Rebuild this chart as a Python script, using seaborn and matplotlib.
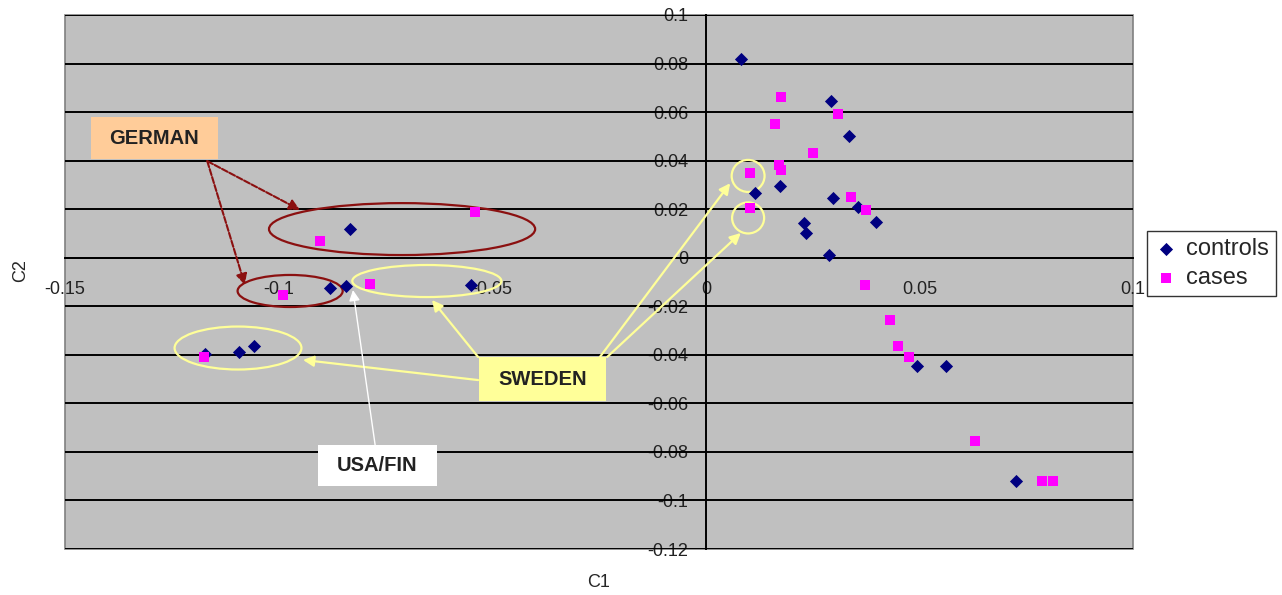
import numpy as np
import pandas as pd
import matplotlib
matplotlib.use("Agg")
import matplotlib.pyplot as plt
from matplotlib.patches import Ellipse, Rectangle
import seaborn as sns

# PCA-style scatter: C1 vs C2
controls_c1 = [0.0082, 0.0292, 0.0335, 0.0115, 0.0174, 0.0297, 0.0356, 0.0399, 0.0229, 0.0235,
               0.0289, 0.0494, 0.0562, 0.0726, -0.0832, -0.0879, -0.0842, -0.0550, -0.1173,
               -0.1093, -0.1058]
controls_c2 = [0.0820, 0.0645, 0.0502, 0.0268, 0.0297, 0.0245, 0.0207, 0.0149, 0.0145, 0.0101,
               0.0010, -0.0446, -0.0446, -0.0919, 0.0118, -0.0125, -0.0115, -0.0114, -0.0398,
               -0.0387, -0.0364]
cases_c1 = [0.0176, 0.0162, 0.0309, 0.0251, 0.0172, 0.0176, 0.0104, 0.0104, 0.0340, 0.0374,
            0.0373, 0.0431, 0.0449, 0.0475, 0.0631, 0.0786, 0.0812, -0.0540, -0.0904, -0.0989,
            -0.0785, -0.1175]
cases_c2 = [0.0664, 0.0550, 0.0591, 0.0432, 0.0382, 0.0361, 0.0350, 0.0204, 0.0249, 0.0197,
            -0.0111, -0.0255, -0.0364, -0.0408, -0.0754, -0.0921, -0.0921, 0.0188, 0.0070,
            -0.0152, -0.0108, -0.0408]

x_ticks = [-0.15, -0.1, -0.05, 0, 0.05, 0.1]
x_ticklabels = ["-0.15", "-0.1", "-0.05", "0", "0.05", "0.1"]
y_ticks = [0.1, 0.08, 0.06, 0.04, 0.02, 0, -0.02, -0.04, -0.06, -0.08, -0.1, -0.12]
y_ticklabels = ["0.1", "0.08", "0.06", "0.04", "0.02", "0", "-0.02", "-0.04", "-0.06",
                "-0.08", "-0.1", "-0.12"]

sns.set_style("white")
plt.rcParams['font.family'] = ['Liberation Sans', 'DejaVu Sans']

df_controls = pd.DataFrame({"C1": controls_c1, "C2": controls_c2})
df_cases = pd.DataFrame({"C1": cases_c1, "C2": cases_c2})

fig = plt.figure(figsize=(12.82, 5.95), dpi=100)
ax = fig.add_axes([0.0507, 0.0773, 0.8331, 0.8975])
ax.set_facecolor("#C0C0C0")
ax.patch.set_edgecolor("#808080")
ax.patch.set_linewidth(1.2)

# horizontal gridlines
for yv in y_ticks:
    ax.axhline(yv, color="black", lw=1.4, zorder=1)

sns.scatterplot(data=df_controls, x="C1", y="C2", ax=ax, marker="D", s=45, color="#000080",
                linewidth=0, label="controls", zorder=5)
sns.scatterplot(data=df_cases, x="C1", y="C2", ax=ax, marker="s", s=42, color="#FF00FF",
                linewidth=0, label="cases", zorder=5)

ax.set_xlim(-0.15, 0.1)
ax.set_ylim(-0.12, 0.1)
ax.set_xticks(x_ticks)
ax.set_xticklabels(x_ticklabels)
ax.set_yticks(y_ticks)
ax.set_yticklabels(y_ticklabels)

ax.spines['left'].set_position(('data', 0))
ax.spines['bottom'].set_position(('data', 0))
ax.spines['top'].set_visible(False)
ax.spines['right'].set_visible(False)
for sp in ['left', 'bottom']:
    ax.spines[sp].set_color("black")
    ax.spines[sp].set_linewidth(1.4)
    ax.spines[sp].set_zorder(2)
ax.tick_params(axis='both', direction='out', length=3.5, width=1.2, color='black',
               labelsize=13, labelcolor='#222222')
ax.tick_params(axis='x', pad=13)
ax.tick_params(axis='y', pad=9)

ax.set_xlabel("C1", fontsize=13)
ax.set_ylabel("C2", fontsize=13)
ax.xaxis.set_label_coords(0.5, -0.047)
ax.yaxis.set_label_coords(-0.034, 0.522)

# annotation ellipses
red = "#8B1010"
yel = "#FFFF99"
ax.add_patch(Ellipse((-0.0711, 0.0118), 0.0623, 0.0214, fill=False, ec=red, lw=1.6, zorder=4))
ax.add_patch(Ellipse((-0.0973, -0.0137), 0.0246, 0.0132, fill=False, ec=red, lw=1.6, zorder=4))
ax.add_patch(Ellipse((-0.0653, -0.0096), 0.0349, 0.0132, fill=False, ec=yel, lw=1.6, zorder=4))
ax.add_patch(Ellipse((-0.1095, -0.0372), 0.0297, 0.0177, fill=False, ec=yel, lw=1.6, zorder=4))
ax.add_patch(Ellipse((0.0099, 0.0337), 0.0077, 0.0132, fill=False, ec=yel, lw=1.6, zorder=4))
ax.add_patch(Ellipse((0.0099, 0.0164), 0.0075, 0.0128, fill=False, ec=yel, lw=1.6, zorder=4))

# label boxes
ax.add_patch(Rectangle((-0.1439, 0.0407), 0.0297, 0.0173, fc="#FFCC99", ec="none", zorder=6))
ax.text(-0.12905, 0.0493, "GERMAN", ha="center", va="center", fontsize=14.5,
        fontweight="bold", color="#222222", zorder=7)
ax.add_patch(Rectangle((-0.0531, -0.0590), 0.0297, 0.0181, fc="#FFFF99", ec="none", zorder=6))
ax.text(-0.0382, -0.0500, "SWEDEN", ha="center", va="center", fontsize=14.5,
        fontweight="bold", color="#222222", zorder=7)
ax.add_patch(Rectangle((-0.0908, -0.0941), 0.0279, 0.0169, fc="white", ec="none", zorder=6))
ax.text(-0.07685, -0.0856, "USA/FIN", ha="center", va="center", fontsize=14.5,
        fontweight="bold", color="#222222", zorder=7)


def arrow(start, end, color, lw, ls="-"):
    ax.annotate("", xy=end, xytext=start, zorder=5,
                arrowprops=dict(arrowstyle="-|>", color=color, lw=lw, linestyle=ls,
                                mutation_scale=16, shrinkA=0, shrinkB=0))


arrow((-0.1167, 0.0398), (-0.0950, 0.0197), red, 1.5, (0, (3, 1)))
arrow((-0.1167, 0.0398), (-0.1079, -0.0112), red, 1.5, (0, (3, 1)))
arrow((-0.0533, -0.0504), (-0.0943, -0.0421), yel, 1.6)
arrow((-0.0533, -0.0409), (-0.0641, -0.0174), yel, 1.6)
arrow((-0.0248, -0.0409), (0.0057, 0.0307), yel, 1.6)
arrow((-0.0231, -0.0409), (0.0082, 0.0102), yel, 1.6)
arrow((-0.0774, -0.0772), (-0.0826, -0.0133), "white", 1.0)

leg = ax.legend(loc="center left", bbox_to_anchor=(1.0135, 0.534), frameon=True, fancybox=False,
                fontsize=17, handletextpad=0.35, borderpad=0.3, labelspacing=0.3,
                handlelength=1.0, borderaxespad=0)
leg.get_frame().set_edgecolor("black")
leg.get_frame().set_linewidth(1.0)
leg.set_zorder(10)

fig.savefig("out.png", dpi=100)
